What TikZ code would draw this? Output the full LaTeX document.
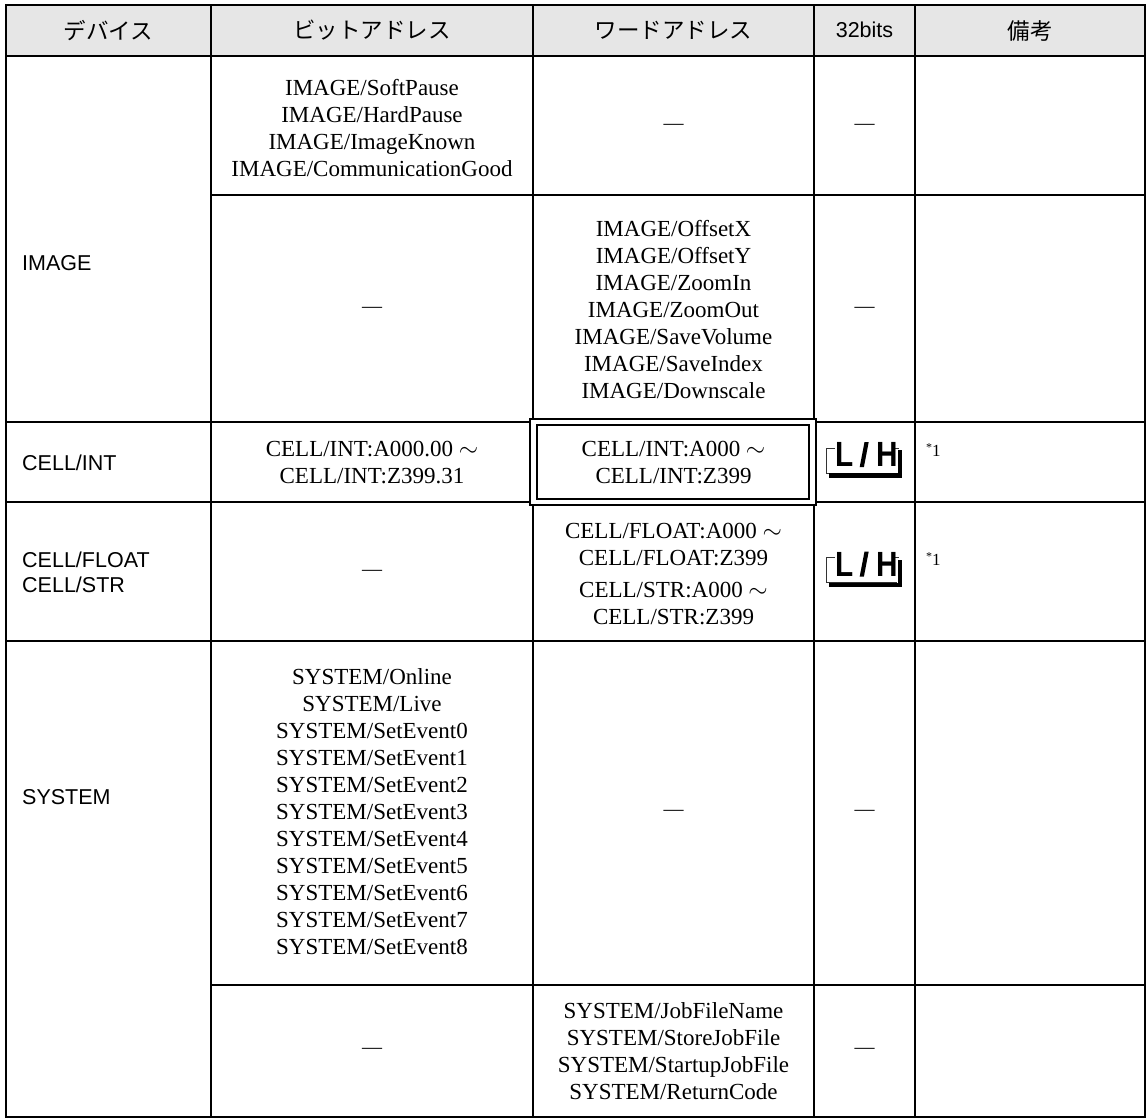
\documentclass[tikz,border=0pt]{standalone}
\usepackage{fontspec}
\setmainfont{Liberation Serif}
\newfontfamily\jpfont{Noto Sans CJK JP}
\newfontfamily\arialfont{Liberation Sans}
\definecolor{hdrgray}{RGB}{230,230,230}
\newcommand{\lhicon}[2]{%
  \begin{scope}[shift={(#1)}]
    \draw[line width=0.8pt,black!80] (-30,-14) -- (-37.8,-14) -- (-37.8,11) -- (32,11);
    \draw[line width=0.8pt,black!80] (30.5,-14) -- (34,-14);
    \fill[black] (-36,11.3) rectangle (37.2,15.5);
    \fill[black] (33.3,-12) rectangle (37.2,15.5);
    \node[lhtext] (#2L) at (-20,-7.5) {L};
    \fill[black] (-4.8,5) -- (-0.6,5) -- (4.2,-20) -- (0,-20) -- cycle;
    \node[lhtext] (#2H) at (22.5,-7.5) {H};
  \end{scope}}
\begin{document}
\begin{tikzpicture}[x=1pt,y=-1pt,
  grid/.style={line width=2pt,line cap=rect},
  cell/.style={font=\fontsize{23}{27}\selectfont, align=center, inner sep=0pt},
  head/.style={font=\jpfont\fontsize{22.5}{26}\selectfont, inner sep=0pt},
  dev/.style={font=\arialfont\fontsize{21.5}{25}\selectfont, align=left, anchor=west, inner sep=0pt},
  dashc/.style={font=\fontsize{20}{24}\selectfont, inner sep=0pt},
  note/.style={font=\fontsize{17}{18}\selectfont, anchor=north west, inner sep=0pt},
  lhtext/.style={font=\arialfont\bfseries\fontsize{35}{35}\selectfont, xscale=0.85, inner sep=0pt}]
\useasboundingbox (0,0) rectangle (1147,1119);
% header background
\fill[hdrgray] (6,5) rectangle (1145,56);
% grid
\draw[grid] (6,5) rectangle (1145,1117);
\draw[grid] (6,56) -- (1145,56);
\draw[grid] (211,5) -- (211,1117);
\draw[grid] (533,5) -- (533,1117);
\draw[grid] (814,5) -- (814,1117);
\draw[grid] (915,5) -- (915,1117);
\draw[grid] (211,195) -- (1145,195);
\draw[grid] (6,422) -- (1145,422);
\draw[grid] (6,502) -- (1145,502);
\draw[grid] (6,641) -- (1145,641);
\draw[grid] (211,985) -- (1145,985);
% double frame
\fill[white] (529,418) rectangle (817,506);
\draw[line width=2.2pt] (530,419) rectangle (816,505);
\draw[line width=2pt] (537,425) rectangle (809,499);
% header
\node[head] (h1) at (108.5,30.5) {デバイス};
\node[head] (h2) at (372,30.5) {ビットアドレス};
\node[head] (h3) at (673.5,30.5) {ワードアドレス};
\node[font=\arialfont\fontsize{21.5}{24}\selectfont, inner sep=0pt] (h4) at (864.5,30) {32bits};
\node[head] (h5) at (1030,30.5) {備考};
% IMAGE
\node[dev] (d1) at (22,263) {IMAGE};
\node[cell] (b1) at (372,128) {IMAGE/SoftPause\\IMAGE/HardPause\\IMAGE/ImageKnown\\IMAGE/CommunicationGood};
\node[dashc] (w1) at (673.5,127) {—};
\node[dashc] (t1) at (864.5,127) {—};
\node[dashc] (b2) at (372,310) {—};
\node[cell] (w2) at (673.5,310) {IMAGE/OffsetX\\IMAGE/OffsetY\\IMAGE/ZoomIn\\IMAGE/ZoomOut\\IMAGE/SaveVolume\\IMAGE/SaveIndex\\IMAGE/Downscale};
\node[dashc] (t2) at (864.5,310) {—};
% CELL/INT
\node[dev] (d2) at (22,463) {CELL/INT};
\node[cell] (b3) at (372,463) {CELL/INT:A000.00 $\sim$\\CELL/INT:Z399.31};
\node[cell] (w3) at (673.5,463) {CELL/INT:A000 $\sim$\\CELL/INT:Z399};
\lhicon{864.5,462}{lh1}
\node[note] (n1) at (926,443) {\raisebox{0.3em}{\fontsize{12}{12}\selectfont *}1};
% CELL/FLOAT
\node[dev] (d3) at (22,572) {CELL/FLOAT\\CELL/STR};
\node[dashc] (b4) at (372,573) {—};
\node[cell] (w4) at (673.5,574) {CELL/FLOAT:A000 $\sim$\\CELL/FLOAT:Z399\\[5pt]CELL/STR:A000 $\sim$\\CELL/STR:Z399};
\lhicon{864.5,571.5}{lh2}
\node[note] (n2) at (926,552.5) {\raisebox{0.3em}{\fontsize{12}{12}\selectfont *}1};
% SYSTEM
\node[dev] (d4) at (22,797) {SYSTEM};
\node[cell] (b5) at (372,812) {SYSTEM/Online\\SYSTEM/Live\\SYSTEM/SetEvent0\\SYSTEM/SetEvent1\\SYSTEM/SetEvent2\\SYSTEM/SetEvent3\\SYSTEM/SetEvent4\\SYSTEM/SetEvent5\\SYSTEM/SetEvent6\\SYSTEM/SetEvent7\\SYSTEM/SetEvent8};
\node[dashc] (w5) at (673.5,813) {—};
\node[dashc] (t5) at (864.5,813) {—};
\node[dashc] (b6) at (372,1051) {—};
\node[cell] (w6) at (673.5,1051) {SYSTEM/JobFileName\\SYSTEM/StoreJobFile\\SYSTEM/StartupJobFile\\SYSTEM/ReturnCode};
\node[dashc] (t6) at (864.5,1051) {—};
\end{tikzpicture}
\end{document}
